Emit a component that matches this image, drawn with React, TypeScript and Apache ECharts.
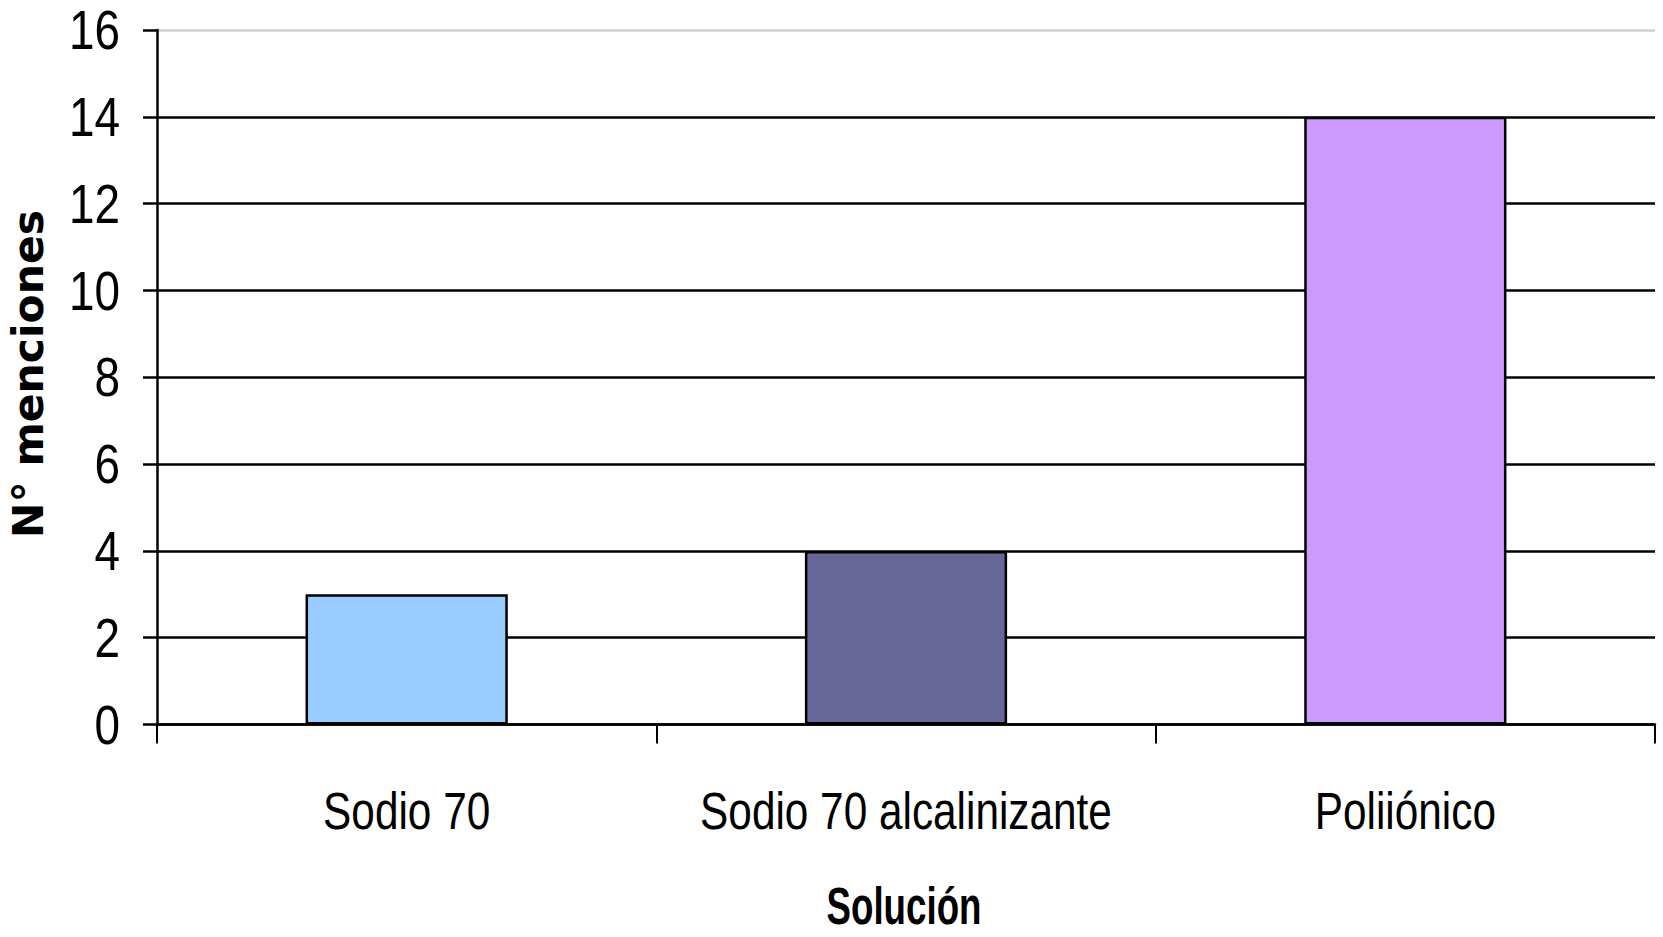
import React, { useEffect, useRef } from "react";
import * as echarts from "echarts";

const categories = ["Sodio 70", "Sodio 70 alcalinizante", "Poliiónico"];
const values = [3, 4, 14];
const barColors = ["#99CCFF", "#666699", "#CC99FF"];
const yTicks = { min: 0, max: 16, interval: 2 };
const xTitle = "Solución";
const yTitle = "N° menciones";

const SANS = "'Liberation Sans', Arial, sans-serif";

export default function App() {
  const ref = useRef<HTMLDivElement>(null);
  useEffect(() => {
    if (!ref.current) return;
    const chart = echarts.init(ref.current, undefined, { renderer: "svg" });
    const splitColors: string[] = [];
    const nLines = (yTicks.max - yTicks.min) / yTicks.interval + 1;
    for (let i = 0; i < nLines; i++) splitColors.push(i === nLines - 1 ? "#d0d0d0" : "#000000");
    chart.setOption({
      animation: false,
      backgroundColor: "#ffffff",
      grid: { left: 157, right: 8, top: 30, bottom: 212.5, containLabel: false },
      xAxis: {
        type: "category",
        data: categories,
        axisLine: { show: true, lineStyle: { color: "#000", width: 2.5 } },
        axisTick: { show: true, length: 19, lineStyle: { color: "#000", width: 2 } },
        axisLabel: { show: false },
        splitLine: { show: false },
      },
      yAxis: {
        type: "value",
        min: yTicks.min,
        max: yTicks.max,
        interval: yTicks.interval,
        axisLine: { show: true, lineStyle: { color: "#000", width: 2.5 } },
        axisTick: { show: true, length: 14, lineStyle: { color: "#000", width: 2.5 } },
        axisLabel: { show: false },
        splitLine: { show: true, lineStyle: { color: splitColors, width: 2.5 } },
      },
      series: [
        {
          type: "bar",
          barWidth: "40.5%",
          data: values.map((v, i) => ({
            value: v,
            itemStyle: { color: barColors[i], borderColor: "#000", borderWidth: 2.5 },
          })),
        },
      ],
    });

    const graphics: any[] = [];
    const labelY = chart.convertToPixel({ yAxisIndex: 0 }, 0) as number;
    categories.forEach((c, i) => {
      const px = chart.convertToPixel({ xAxisIndex: 0 }, c) as number;
      graphics.push({
        type: "text",
        id: "xl" + i,
        x: px,
        y: labelY + 87,
        scaleX: 0.83,
        style: {
          text: c,
          fontFamily: SANS,
          fontSize: 51,
          fill: "#000",
          align: "center",
          verticalAlign: "middle",
        },
      });
    });
    for (let v = yTicks.min; v <= yTicks.max; v += yTicks.interval) {
      const py = chart.convertToPixel({ yAxisIndex: 0 }, v) as number;
      graphics.push({
        type: "text",
        id: "yl" + v,
        x: 120,
        y: py,
        scaleX: 0.82,
        style: {
          text: String(v),
          fontFamily: SANS,
          fontSize: 56,
          fill: "#000",
          align: "right",
          verticalAlign: "middle",
        },
      });
    }
    const x0 = chart.convertToPixel({ xAxisIndex: 0 }, categories[0]) as number;
    const x2 = chart.convertToPixel({ xAxisIndex: 0 }, categories[categories.length - 1]) as number;
    graphics.push({
      type: "text",
      id: "xtitle",
      x: (x0 + x2) / 2 - 2,
      y: 906,
      scaleX: 0.72,
      style: {
        text: xTitle,
        fontFamily: SANS,
        fontWeight: "bold",
        fontSize: 51,
        fill: "#000",
        align: "center",
        verticalAlign: "middle",
      },
    });
    graphics.push({
      type: "text",
      id: "ytitle",
      x: 28,
      y: 374,
      rotation: Math.PI / 2,
      style: {
        text: yTitle,
        fontFamily: "'DejaVu Sans', sans-serif",
        fontWeight: "bold",
        fontSize: 42.5,
        fill: "#000",
        align: "center",
        verticalAlign: "middle",
      },
    });
    chart.setOption({ graphic: graphics });
    return () => chart.dispose();
  }, []);
  return (
    <div
      ref={ref}
      style={{ position: "fixed", left: 0, top: 0, width: 1663, height: 937, background: "#fff" }}
    />
  );
}
